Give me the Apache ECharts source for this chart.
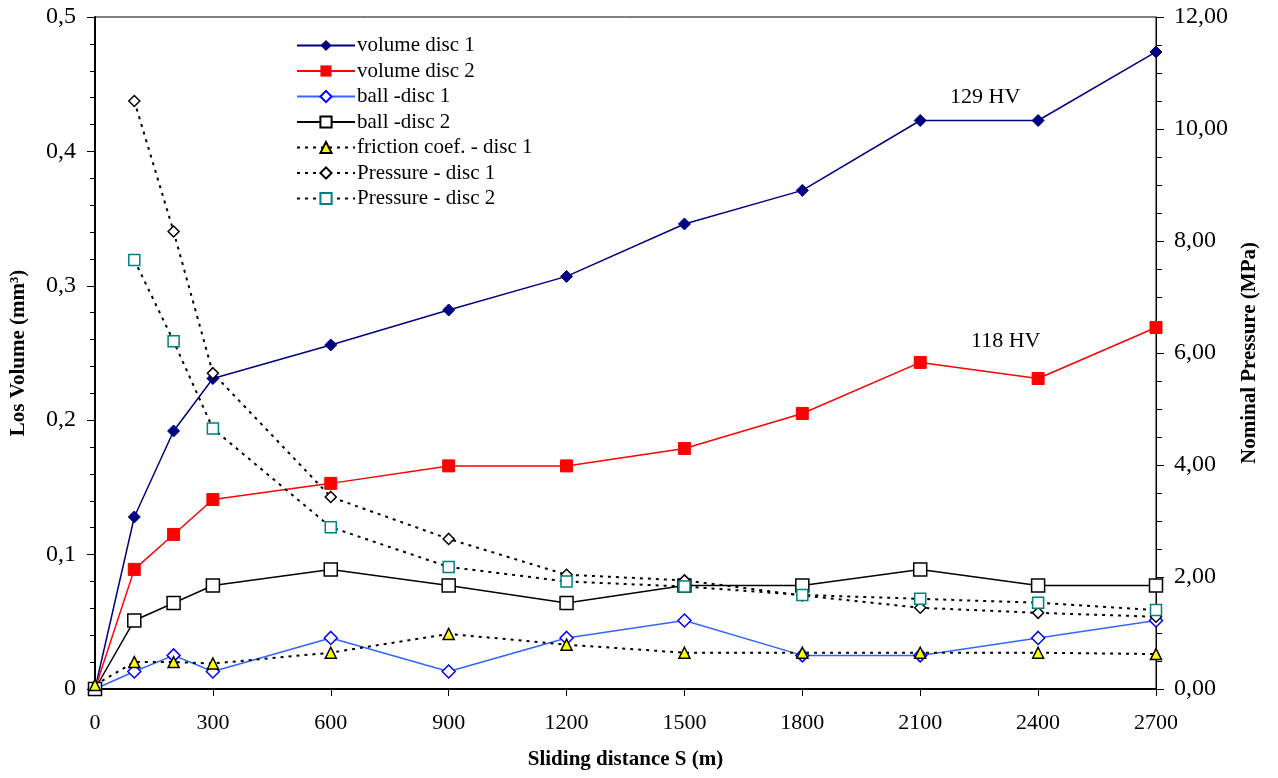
<!DOCTYPE html>
<html>
<head>
<meta charset="utf-8">
<title>Wear volume and pressure vs sliding distance</title>
<script src="https://cdn.jsdelivr.net/npm/echarts@6/dist/echarts.min.js"></script>
<style>
  html, body { margin: 0; padding: 0; background: #fff; }
  #mychart1 { width: 1278px; height: 778px; }
</style>
</head>
<body>
<div id="mychart1"></div>
<script>
// sliding distance (m)
var distance = [0, 100, 200, 300, 600, 900, 1200, 1500, 1800, 2100, 2400, 2700];
// loss volume (mm3), left axis
var volumeDisc1 = [0, 0.128, 0.192, 0.231, 0.256, 0.282, 0.307, 0.346, 0.371, 0.423, 0.423, 0.474];
var volumeDisc2 = [0, 0.089, 0.115, 0.141, 0.153, 0.166, 0.166, 0.179, 0.205, 0.243, 0.231, 0.269];
var ballDisc1 = [0, 0.013, 0.025, 0.013, 0.038, 0.013, 0.038, 0.051, 0.025, 0.025, 0.038, 0.051];
var ballDisc2 = [0, 0.051, 0.064, 0.077, 0.089, 0.077, 0.064, 0.077, 0.077, 0.089, 0.077, 0.077];
var frictionDisc1 = [0.003, 0.020, 0.020, 0.019, 0.027, 0.041, 0.033, 0.027, 0.027, 0.027, 0.027, 0.026];
// nominal pressure (MPa), right axis
var pressureDisc1 = ['-', 10.5, 8.17, 5.64, 3.43, 2.68, 2.04, 1.94, 1.67, 1.45, 1.36, 1.29];
var pressureDisc2 = ['-', 7.66, 6.21, 4.65, 2.89, 2.18, 1.92, 1.83, 1.68, 1.61, 1.54, 1.41];

var fontFam = '"Liberation Serif", "Times New Roman", serif';

//把数值配成 [x, y]
function pairs(vals) {
    var arr = [];
    for (var i = 0; i < vals.length; i++) {
        arr.push([distance[i], vals[i]]);
    }
    return arr;
}

var dotted = { type: [3, 5], width: 2, color: '#000' };

var myChart = echarts.init(document.getElementById('mychart1'));
var option = {
    animation: false,
    backgroundColor: '#fff',
    textStyle: { fontFamily: fontFam },
    grid: {
        left: 94, right: 122, top: 17, bottom: 89,
        show: true, borderColor: '#000', borderWidth: 1
    },
    legend: {
        orient: 'vertical',
        left: 291,
        top: 30,
        itemWidth: 58,
        itemHeight: 14,
        itemGap: 4.5,
        textStyle: { fontFamily: fontFam, fontSize: 21, color: '#000', padding: [0, 0, 0, -3] },
        data: ['volume disc 1', 'volume disc 2', 'ball -disc 1', 'ball -disc 2',
               'friction coef. - disc 1', 'Pressure - disc 1', 'Pressure - disc 2']
    },
    xAxis: {
        type: 'value',
        min: 0, max: 2700, interval: 300,
        name: 'Sliding distance S (m)',
        nameLocation: 'middle',
        nameGap: 60,
        nameTextStyle: { fontFamily: fontFam, fontSize: 21, fontWeight: 'bold', color: '#000' },
        axisLine: { lineStyle: { color: '#000', width: 2 } },
        axisTick: { length: 7, lineStyle: { color: '#000' } },
        axisLabel: {
            fontFamily: fontFam, fontSize: 22, color: '#000', margin: 23,
            formatter: function (v) { return String(v); }
        },
        splitLine: { show: false }
    },
    yAxis: [
        {
            type: 'value',
            min: 0, max: 0.5, interval: 0.1,
            name: 'Los Volume (mm³)',
            nameLocation: 'middle',
            nameRotate: 90,
            nameGap: 66,
            nameTextStyle: { fontFamily: fontFam, fontSize: 21, fontWeight: 'bold', color: '#000' },
            axisLine: { show: true, lineStyle: { color: '#000', width: 2 } },
            axisTick: { show: true, length: 8, lineStyle: { color: '#000' } },
            minorTick: { show: true, splitNumber: 5, length: 5, lineStyle: { color: '#000' } },
            axisLabel: {
                fontFamily: fontFam, fontSize: 24, color: '#000', margin: 19,
                formatter: function (v) { return v === 0 ? '0' : v.toFixed(1).replace('.', ','); }
            },
            splitLine: { show: false }
        },
        {
            type: 'value',
            min: 0, max: 12, interval: 2,
            position: 'right',
            name: 'Nominal Pressure (MPa)',
            nameLocation: 'middle',
            nameRotate: 90,
            nameGap: 83,
            nameTextStyle: { fontFamily: fontFam, fontSize: 21, fontWeight: 'bold', color: '#000' },
            axisLine: { show: true, lineStyle: { color: '#000', width: 1 } },
            axisTick: { show: true, length: 8, lineStyle: { color: '#000' } },
            minorTick: { show: true, splitNumber: 4, length: 6, lineStyle: { color: '#000' } },
            axisLabel: {
                fontFamily: fontFam, fontSize: 24, color: '#000', margin: 18,
                formatter: function (v) { return v.toFixed(2).replace('.', ','); }
            },
            splitLine: { show: false }
        }
    ],
    graphic: [
        { type: 'text', left: 950, top: 86, style: { text: '129 HV', font: '22px ' + fontFam, fill: '#000' } },
        { type: 'text', left: 971, top: 330, style: { text: '118 HV', font: '22px ' + fontFam, fill: '#000' } }
    ],
    series: [
        {
            name: 'volume disc 1', type: 'line', yAxisIndex: 0,
            data: pairs(volumeDisc1),
            symbol: 'diamond', symbolSize: 12,
            lineStyle: { color: '#000080', width: 1.5 },
            itemStyle: { color: '#000080', borderColor: '#000080' }
        },
        {
            name: 'volume disc 2', type: 'line', yAxisIndex: 0,
            data: pairs(volumeDisc2),
            symbol: 'rect', symbolSize: 12,
            lineStyle: { color: '#ff0000', width: 1.5 },
            itemStyle: { color: '#ff0000', borderColor: '#ff0000' }
        },
        {
            name: 'ball -disc 1', type: 'line', yAxisIndex: 0,
            data: pairs(ballDisc1),
            symbol: 'diamond', symbolSize: 13,
            lineStyle: { color: '#3366ff', width: 1.5 },
            itemStyle: { color: '#fff', borderColor: '#0000ff', borderWidth: 1.5 }
        },
        {
            name: 'ball -disc 2', type: 'line', yAxisIndex: 0,
            data: pairs(ballDisc2),
            symbol: 'rect', symbolSize: 13,
            lineStyle: { color: '#000', width: 1.5 },
            itemStyle: { color: '#fff', borderColor: '#000', borderWidth: 1.5 }
        },
        {
            name: 'friction coef. - disc 1', type: 'line', yAxisIndex: 0,
            data: pairs(frictionDisc1),
            symbol: 'triangle', symbolSize: 11,
            lineStyle: dotted,
            itemStyle: { color: '#ffff00', borderColor: '#000', borderWidth: 1.5 }
        },
        {
            name: 'Pressure - disc 1', type: 'line', yAxisIndex: 1,
            data: pairs(pressureDisc1),
            symbol: 'diamond', symbolSize: 11,
            lineStyle: dotted,
            itemStyle: { color: '#fff', borderColor: '#000', borderWidth: 1.5 }
        },
        {
            name: 'Pressure - disc 2', type: 'line', yAxisIndex: 1,
            data: pairs(pressureDisc2),
            symbol: 'rect', symbolSize: 11,
            lineStyle: dotted,
            itemStyle: { color: '#fff', borderColor: '#008080', borderWidth: 1.5 }
        }
    ]
};
myChart.setOption(option);
</script>
</body>
</html>
